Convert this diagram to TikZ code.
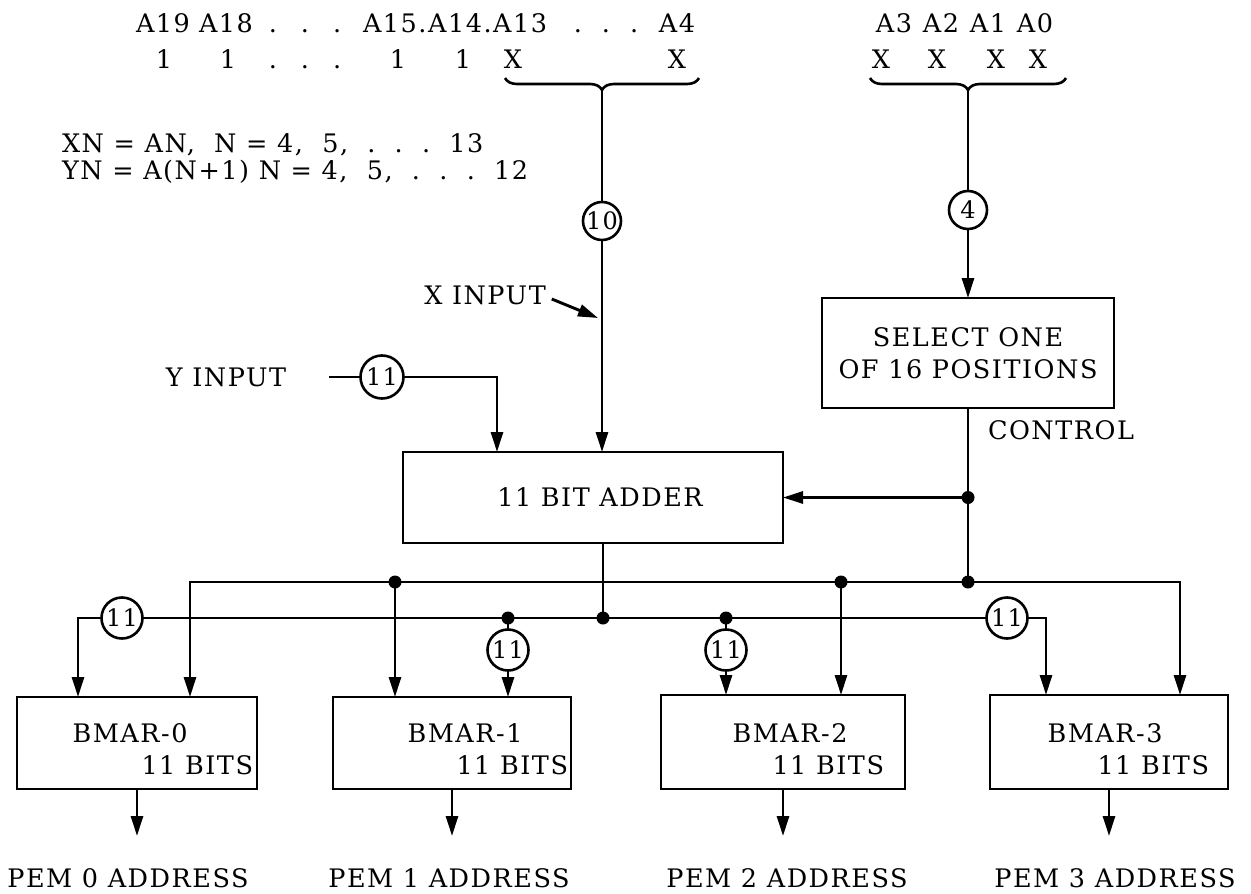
\documentclass[tikz,border=0pt]{standalone}
\usepackage{fontspec}
\setmainfont{DejaVu Serif}[LetterSpace=6]
\usetikzlibrary{arrows.meta,decorations.pathreplacing}
\begin{document}
\begin{tikzpicture}[x=1pt,y=-1pt,
  every node/.style={font=\fontsize{25.5}{32}\selectfont, inner sep=0pt, outer sep=0pt},
  blk/.style={draw, line width=2.9pt},
  wire/.style={line width=2.9pt},
  arr/.style={line width=2.9pt, -{Triangle[length=20pt,width=12pt]}},
  num/.style={draw, circle, line width=2.6pt, minimum size=41pt, font=\fontsize{24}{26}\selectfont},
  nums/.style={draw, circle, line width=2.6pt, minimum size=38pt, font=\fontsize{24}{26}\selectfont},
  jdot/.style={fill, circle, minimum size=13pt},
  bracestyle/.style={decorate, decoration={brace, mirror, amplitude=12pt}, line width=2.6pt},
]
\useasboundingbox (0,0) rectangle (1251,894);

% ---- top address rows
\node[anchor=base] (a19) at (163,32) {A19};
\node[anchor=base] (a18) at (226,32) {A18};
\node[anchor=base] (dl1) at (305,32) {.\hspace{24pt}.\hspace{24pt}.};
\node[anchor=base west] (a15) at (363,32) {A15.A14.A13};
\node[anchor=base] (dr1) at (606,32) {.\hspace{20pt}.\hspace{20pt}.};
\node[anchor=base] (a4) at (677,32) {A4};

\node[anchor=base] (r19) at (164,68) {1};
\node[anchor=base] (r18) at (228,68) {1};
\node[anchor=base] (dl2) at (305,68) {.\hspace{24pt}.\hspace{24pt}.};
\node[anchor=base] (r15) at (398,68) {1};
\node[anchor=base] (r14) at (463,68) {1};
\node[anchor=base] (r13) at (513,68) {X};
\node[anchor=base] (r4) at (677,68) {X};

\node[anchor=base] (a3) at (894,32) {A3};
\node[anchor=base] (a2) at (941,32) {A2};
\node[anchor=base] (a1) at (988,32) {A1};
\node[anchor=base] (a0) at (1035,32) {A0};
\node[anchor=base] (x3) at (881,68) {X};
\node[anchor=base] (x2) at (937,68) {X};
\node[anchor=base] (x1) at (996,68) {X};
\node[anchor=base] (x0) at (1038,68) {X};

\draw[bracestyle] (505,78) -- (699,78);
\draw[bracestyle] (870,78) -- (1066,78);
\coordinate (bt1) at (602,90);
\coordinate (bt2) at (968,90);

% ---- equations
\node[anchor=base west] (eqx) at (62,152) {XN = AN,\ \ N = 4,\ \ 5,\ \ .\ \ .\ \ .\ \ 13};
\node[anchor=base west] (eqy) at (62,179) {YN = A(N+1) N = 4,\ \ 5,\ \ .\ \ .\ \ .\ \ 12};

% ---- counts on the address lines
\node[nums] (c10) at (602,221) {10};
\node[nums] (c4) at (968,210) {4};

% ---- blocks
\node[blk, minimum width=380pt, minimum height=91pt] (add) at (593,497.5) {};
\node (addt) at (600,497.5) {11 BIT ADDER};
\node[blk, minimum width=292pt, minimum height=110pt, align=center] (sel) at (968,353) {SELECT ONE\\OF 16 POSITIONS};
\node[anchor=west] (ctl) at (988,430) {CONTROL};

% ---- X input
\node (xin) at (485,295) {X INPUT};
\coordinate (xt) at (598,318);
\draw[wire] (bt1) -- (c10);
\draw[arr] (c10) -- (c10 |- add.north);
\draw[arr] ([shift={(6,4)}]xin.east) -- (xt);

% ---- Y input
\node (yin) at (226,377) {Y INPUT};
\coordinate (ys) at (329,377);
\node[num, minimum size=43pt] (cY) at (382,377) {11};
\coordinate (ya) at (497,452);
\draw[wire] (ys) -- (cY);
\draw[arr] (cY) -| (ya);

% ---- select path
\draw[wire] (bt2) -- (c4);
\draw[arr] (c4) -- (sel.north);
\coordinate (j1) at (968,497.5);
\coordinate (j2) at (968,582);
\draw[wire] (sel.south) -- (j2);
\draw[arr] (j1) -- (add.east);

% ---- BMAR blocks
\node[blk, minimum width=240pt, minimum height=92pt] (bm0) at (137,743) {};
\node[blk, minimum width=238pt, minimum height=92pt] (bm1) at (452,743) {};
\node[blk, minimum width=244pt, minimum height=94pt] (bm2) at (783,742) {};
\node[blk, minimum width=238pt, minimum height=94pt] (bm3) at (1109,742) {};
\node (n0) at (130,733) {BMAR-0};
\node[anchor=east] (s0) at (253,765) {11 BITS};
\node (n1) at (465,733) {BMAR-1};
\node[anchor=east] (s1) at (568,765) {11 BITS};
\node (n2) at (790,733) {BMAR-2};
\node[anchor=east] (s2) at (884,765) {11 BITS};
\node (n3) at (1105,733) {BMAR-3};
\node[anchor=east] (s3) at (1209,765) {11 BITS};

% ---- upper bus (control)
\coordinate (u1) at (395,582);
\coordinate (u2) at (841,582);
\coordinate (t0b) at (190,697);
\coordinate (t1a) at (395,697);
\coordinate (t2b) at (841,695);
\coordinate (t3b) at (1180,695);
\draw[arr] (j2) -- (u1) -| (t0b);
\draw[arr] (j2) -| (t3b);
\draw[arr] (u1) -- (t1a);
\draw[arr] (u2) -- (t2b);

% ---- lower bus (adder output)
\node[num] (cL) at (122,618) {11};
\node[num] (cR) at (1007,618) {11};
\coordinate (l1) at (508,618);
\coordinate (l2) at (603,618);
\coordinate (l3) at (726,618);
\coordinate (t0a) at (78,697);
\coordinate (t1b) at (508,697);
\coordinate (t2a) at (726,695);
\coordinate (t3a) at (1046,695);
\draw[wire] (cL) -- (cR);
\draw[wire] (add.south -| l2) -- (l2);
\draw[arr] (cL) -| (t0a);
\draw[arr] (cR) -| (t3a);
\node[num] (cM1) at (508,650) {11};
\node[num] (cM2) at (726,650) {11};
\draw[wire] (l1) -- (cM1);
\draw[arr] (cM1) -- (t1b);
\draw[wire] (l3) -- (cM2);
\draw[arr] (cM2) -- (t2a);

% ---- junction dots
\foreach \p in {j1,j2,u1,u2,l1,l2,l3} { \node[jdot] (dot\p) at (\p) {}; }

% ---- outputs
\coordinate (o0) at (137,836);
\coordinate (o1) at (452,836);
\coordinate (o2) at (783,836);
\coordinate (o3) at (1109,836);
\draw[arr] (bm0.south) -- (o0);
\draw[arr] (bm1.south) -- (o1);
\draw[arr] (bm2.south) -- (o2);
\draw[arr] (bm3.south) -- (o3);
\node (p0) at (128,878) {PEM 0 ADDRESS};
\node (p1) at (449,878) {PEM 1 ADDRESS};
\node (p2) at (787,878) {PEM 2 ADDRESS};
\node (p3) at (1115,878) {PEM 3 ADDRESS};
\end{tikzpicture}
\end{document}
